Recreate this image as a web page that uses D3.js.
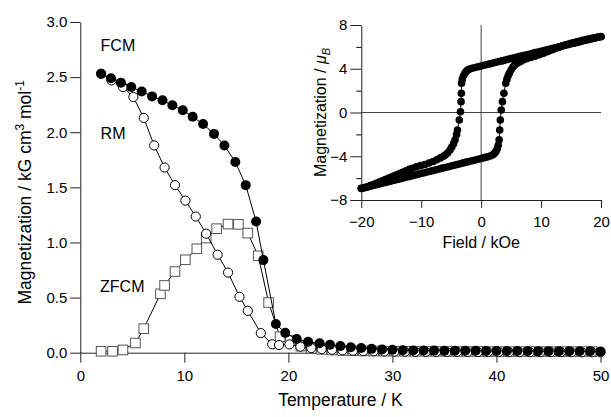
<!DOCTYPE html>
<html lang="en">
<head>
<meta charset="utf-8">
<title>Magnetization vs temperature</title>
<script src="https://d3js.org/d3.v7.min.js"></script>
<style>
  body { margin: 0; background: #fff; }
  text { font-family: Arial, "Liberation Sans", sans-serif; }
</style>
</head>
<body>
<script>
var width = 611, height = 417;

// main plot: [T (K), M (kG cm3 mol-1)]
var zfcm = [[2,0.013],[3.1,0.013],[4.1,0.025],[5.3,0.088],[6.1,0.218],[7.7,0.534],[8.1,0.61],
  [9.1,0.736],[10.1,0.843],[11.2,0.943],[12.1,1.04],[13.1,1.125],[14.2,1.167],[15.2,1.164],
  [16.1,1.085],[17.1,0.879],[18.1,0.455],[19.2,0.145],[20.2,0.11],[21.2,0.06],[22.2,0.04],
  [23.2,0.03],[24.2,0.024],[25.2,0.02],[26.2,0.018],[27.2,0.016],[28.2,0.015],[29.2,0.014],
  [30.2,0.013],[31.2,0.013],[32.2,0.012],[33.2,0.012],[34.2,0.012],[35.2,0.011],[36.2,0.011],
  [37.2,0.011],[38.2,0.011],[39.2,0.01],[40.2,0.01],[41.2,0.01],[42.2,0.01],[43.2,0.01],
  [44.2,0.01],[45.2,0.01],[46.2,0.01],[47.2,0.01],[48.2,0.01],[49.2,0.01]];

var rm = [[2,2.53],[3,2.47],[4.1,2.41],[5.1,2.32],[6.1,2.13],[7.1,1.88],[8.1,1.68],[9.1,1.52],
  [10.1,1.38],[11.1,1.235],[12.1,1.08],[13.2,0.889],[14.2,0.727],[15.3,0.507],[16.1,0.38],
  [17.35,0.178],[18.45,0.076],[19.1,0.07],[20.1,0.075],[21.15,0.055],[22.2,0.042],[23.2,0.033],
  [24.2,0.027],[25.2,0.022],[26.2,0.018],[27.2,0.015],[28.2,0.013],[29.2,0.011],[30.2,0.01],
  [31.2,0.009],[32.2,0.008],[33.2,0.008],[34.2,0.007],[35.2,0.007],[36.2,0.007],[37.2,0.006],
  [38.2,0.006],[39.2,0.006],[40.2,0.006],[41.2,0.005],[42.2,0.005],[43.2,0.005],[44.2,0.005],
  [45.2,0.005],[46.2,0.005],[47.2,0.004],[48.2,0.004],[49.2,0.004],[50,0.004]];

var fcm = [[2,2.53],[2.95,2.49],[3.9,2.45],[4.9,2.41],[5.9,2.37],[6.9,2.325],[7.9,2.29],
  [8.85,2.245],[9.85,2.2],[10.8,2.14],[11.8,2.075],[12.85,1.985],[13.85,1.88],[14.9,1.73],
  [15.9,1.52],[16.9,1.19],[17.6,0.84],[18.8,0.26],[19.7,0.18],[20.8,0.125],[21.9,0.1],
  [23,0.085],[24,0.072],[25,0.06],[26,0.05],[27,0.042],[28,0.035],[29,0.03],[30,0.026],
  [31,0.023],[32,0.021],[33,0.02],[34,0.019],[35,0.018],[36,0.018],[37,0.017],[38,0.017],
  [39,0.016],[40,0.016],[41,0.015],[42,0.015],[43,0.015],[44,0.014],[45,0.014],[46,0.014],
  [47,0.013],[48,0.013],[49,0.013],[50,0.012]];

var seriesLabels = [["FCM",1.95,2.74],["RM",1.95,1.94],["ZFCM",1.9,0.555]];
var tempTicks = [0,10,20,30,40,50];
var magTicks = [0,0.5,1,1.5,2,2.5,3];

// inset: [H (kOe), M (muB)]
var loopDown = [[20,6.95],[19.5,6.88],[19,6.82],[18.5,6.75],[18,6.68],[17.5,6.61],[17,6.55],
  [16.5,6.48],[16,6.41],[15.5,6.34],[15,6.28],[14.5,6.21],[14,6.14],[13.5,6.07],[13,6.01],
  [12.5,5.94],[12,5.87],[11.5,5.8],[11,5.74],[10.5,5.67],[10,5.6],[9.5,5.53],[9,5.47],
  [8.5,5.4],[8,5.33],[7.5,5.26],[7,5.2],[6.5,5.13],[6,5.06],[5.5,4.99],[5,4.93],[4.5,4.86],
  [4,4.79],[3.5,4.72],[3,4.66],[2.5,4.59],[2,4.52],[1.5,4.45],[1,4.39],[0.5,4.32],[0,4.25],
  [-0.5,4.18],[-1,4.12],[-1.5,4.05],[-1.9,3.98],[-2.2,3.9],[-2.45,3.78],[-2.7,3.6],[-2.95,3.35],
  [-3.15,3.05],[-3.27,2.67],[-3.3,1.75],[-3.35,0.99],[-3.45,0.07],[-3.65,-0.69],[-3.95,-1.6],
  [-4.1,-2.0],[-4.35,-2.5],[-4.6,-2.85],[-4.9,-3.15],[-5.2,-3.43],[-5.6,-3.7],[-6.0,-3.88],
  [-6.3,-4.0],[-6.8,-4.15],[-7.4,-4.32],[-8.0,-4.48],[-8.7,-4.62],[-9.4,-4.75],[-10.1,-4.86],
  [-10.8,-4.97],[-11.5,-5.1],[-12,-5.2],[-12.5,-5.32],[-13,-5.44],[-13.5,-5.55],[-14,-5.67],
  [-14.5,-5.79],[-15,-5.9],[-15.5,-6.02],[-16,-6.13],[-16.5,-6.25],[-17,-6.36],[-17.5,-6.47],
  [-18,-6.58],[-18.5,-6.69],[-19,-6.8],[-19.5,-6.87],[-20,-6.93]];

var loopUp = [[-20,-6.95],[-19.5,-6.88],[-19,-6.81],[-18.5,-6.74],[-18,-6.68],[-17.5,-6.61],
  [-17,-6.54],[-16.5,-6.47],[-16,-6.4],[-15.5,-6.33],[-15,-6.26],[-14.5,-6.19],[-14,-6.13],
  [-13.5,-6.06],[-13,-5.99],[-12.5,-5.92],[-12,-5.85],[-11.5,-5.78],[-11,-5.71],[-10.5,-5.64],
  [-10,-5.58],[-9.5,-5.51],[-9,-5.44],[-8.5,-5.37],[-8,-5.3],[-7.5,-5.23],[-7,-5.16],
  [-6.5,-5.09],[-6,-5.03],[-5.5,-4.96],[-5,-4.89],[-4.5,-4.82],[-4,-4.75],[-3.5,-4.68],
  [-3,-4.61],[-2.5,-4.54],[-2,-4.48],[-1.5,-4.41],[-1,-4.34],[-0.5,-4.27],[0,-4.2],[0.5,-4.13],
  [1,-4.06],[1.5,-3.98],[1.9,-3.88],[2.2,-3.75],[2.45,-3.58],[2.65,-3.35],[2.85,-3.0],
  [3.0,-2.5],[3.1,-1.6],[3.2,-0.69],[3.35,0.23],[3.55,0.99],[3.8,1.75],[4.1,2.67],[4.3,3.05],
  [4.5,3.35],[4.7,3.58],[5.0,3.9],[5.3,4.15],[5.6,4.34],[6.0,4.5],[6.5,4.65],[7.0,4.8],
  [7.6,4.92],[8.3,5.03],[9.0,5.15],[9.7,5.28],[10.4,5.42],[11,5.55],[11.5,5.66],[12,5.77],
  [12.5,5.87],[13,5.97],[13.5,6.07],[14,6.16],[14.5,6.24],[15,6.32],[15.5,6.4],[16,6.47],
  [16.5,6.54],[17,6.6],[17.5,6.67],[18,6.73],[18.5,6.79],[19,6.84],[19.5,6.89],[20,6.93]];

var fieldTicks = [-20,-10,0,10,20];
var momentTicks = [-8,-4,0,4,8];
var momentMinor = [-6,-2,2,6];

var svg = d3.select("body").append("svg")
    .attr("width", width)
    .attr("height", height);

var x = d3.scaleLinear().domain([0, 50]).range([80.3, 600.5]);
var y = d3.scaleLinear().domain([0, 3]).range([352.7, 22]);

// main axes
var gx = svg.append("g")
    .attr("transform", "translate(0," + y(0) + ")")
    .call(d3.axisBottom(x).tickValues(tempTicks).tickSize(10).tickSizeOuter(0).tickPadding(8)
        .tickFormat(d3.format("d")));
var gy = svg.append("g")
    .attr("transform", "translate(" + x(0) + ",0)")
    .call(d3.axisLeft(y).tickValues(magTicks).tickSize(10).tickSizeOuter(0).tickPadding(3)
        .tickFormat(d3.format(".1f")));
[gx, gy].forEach(function(g) {
    g.attr("font-size", 15).attr("font-family", "Arial, 'Liberation Sans', sans-serif");
    g.selectAll("text").attr("fill", "#000");
    g.selectAll("line, path").attr("stroke", "#222");
});

svg.append("text")
    .attr("x", (x(0) + x(50)) / 2)
    .attr("y", 406)
    .attr("text-anchor", "middle")
    .attr("font-size", 17.5)
    .text("Temperature / K");

var ylab = svg.append("text")
    .attr("transform", "translate(31," + (y(1.5) + 5) + ") rotate(-90)")
    .attr("text-anchor", "middle")
    .attr("font-size", 17.5);
ylab.append("tspan").text("Magnetization / kG cm");
ylab.append("tspan").attr("font-size", 12).attr("dy", -7).text("3");
ylab.append("tspan").attr("dy", 7).text(" mol");
ylab.append("tspan").attr("font-size", 12).attr("dy", -7).text("-1");

var line = d3.line()
    .x(function(d) { return x(d[0]); })
    .y(function(d) { return y(d[1]); });

// ZFCM
svg.append("path").datum(zfcm).attr("d", line)
    .attr("fill", "none").attr("stroke", "#000").attr("stroke-width", 1);
svg.append("g").selectAll("rect").data(zfcm).enter().append("rect")
    .attr("x", function(d) { return x(d[0]) - 4.8; })
    .attr("y", function(d) { return y(d[1]) - 4.8; })
    .attr("width", 9.6).attr("height", 9.6)
    .attr("fill", "#fff").attr("stroke", "#555").attr("stroke-width", 1);

// RM
svg.append("path").datum(rm).attr("d", line)
    .attr("fill", "none").attr("stroke", "#000").attr("stroke-width", 1);
svg.append("g").selectAll("circle").data(rm).enter().append("circle")
    .attr("cx", function(d) { return x(d[0]); })
    .attr("cy", function(d) { return y(d[1]); })
    .attr("r", 4.6)
    .attr("fill", "#fff").attr("stroke", "#000").attr("stroke-width", 1);

// FCM
svg.append("path").datum(fcm).attr("d", line)
    .attr("fill", "none").attr("stroke", "#000").attr("stroke-width", 1);
svg.append("g").selectAll("circle").data(fcm).enter().append("circle")
    .attr("cx", function(d) { return x(d[0]); })
    .attr("cy", function(d) { return y(d[1]); })
    .attr("r", 5)
    .attr("fill", "#000");

svg.append("g").selectAll("text").data(seriesLabels).enter().append("text")
    .attr("x", function(d) { return x(d[1]); })
    .attr("y", function(d) { return y(d[2]); })
    .attr("font-size", 16)
    .text(function(d) { return d[0]; });

// inset
var xi = d3.scaleLinear().domain([-20, 20]).range([361.3, 601]);
var yi = d3.scaleLinear().domain([-8, 8]).range([200, 25]);

svg.append("line")
    .attr("x1", xi(0)).attr("x2", xi(0)).attr("y1", yi(8)).attr("y2", yi(-8))
    .attr("stroke", "#444").attr("stroke-width", 1);
svg.append("line")
    .attr("x1", xi(-20)).attr("x2", xi(20)).attr("y1", yi(0)).attr("y2", yi(0))
    .attr("stroke", "#444").attr("stroke-width", 1);

var gxi = svg.append("g")
    .attr("transform", "translate(0," + yi(-8) + ")")
    .call(d3.axisBottom(xi).tickValues(fieldTicks).tickSize(8).tickSizeOuter(0).tickPadding(8)
        .tickFormat(d3.format("d")));
var gyi = svg.append("g")
    .attr("transform", "translate(" + xi(-20) + ",0)")
    .call(d3.axisLeft(yi).tickValues(momentTicks).tickSize(11).tickSizeOuter(0).tickPadding(3)
        .tickFormat(d3.format("d")));
svg.append("g")
    .attr("transform", "translate(" + xi(-20) + ",0)")
    .call(d3.axisLeft(yi).tickValues(momentMinor).tickSize(5).tickSizeOuter(0).tickFormat(""))
    .select(".domain").remove();
[gxi, gyi].forEach(function(g) {
    g.attr("font-size", 15).attr("font-family", "Arial, 'Liberation Sans', sans-serif");
    g.selectAll("text").attr("fill", "#000");
    g.selectAll("line, path").attr("stroke", "#222");
});

svg.append("text")
    .attr("x", xi(0))
    .attr("y", 248)
    .attr("text-anchor", "middle")
    .attr("font-size", 16)
    .text("Field / kOe");

var yilab = svg.append("text")
    .attr("transform", "translate(326," + yi(0) + ") rotate(-90)")
    .attr("text-anchor", "middle")
    .attr("font-size", 16);
yilab.append("tspan").text("Magnetization / ");
yilab.append("tspan").attr("font-style", "italic").text("\u03bc");
yilab.append("tspan").attr("font-style", "italic").attr("font-size", 11).attr("dy", 4).text("B");

var iline = d3.line()
    .x(function(d) { return xi(d[0]); })
    .y(function(d) { return yi(d[1]); });

[loopDown, loopUp].forEach(function(branch) {
    svg.append("path").datum(branch).attr("d", iline)
        .attr("fill", "none").attr("stroke", "#000").attr("stroke-width", 1);
    svg.append("g").selectAll("circle").data(branch).enter().append("circle")
        .attr("cx", function(d) { return xi(d[0]); })
        .attr("cy", function(d) { return yi(d[1]); })
        .attr("r", 3.8)
        .attr("fill", "#000");
});
</script>
</body>
</html>
